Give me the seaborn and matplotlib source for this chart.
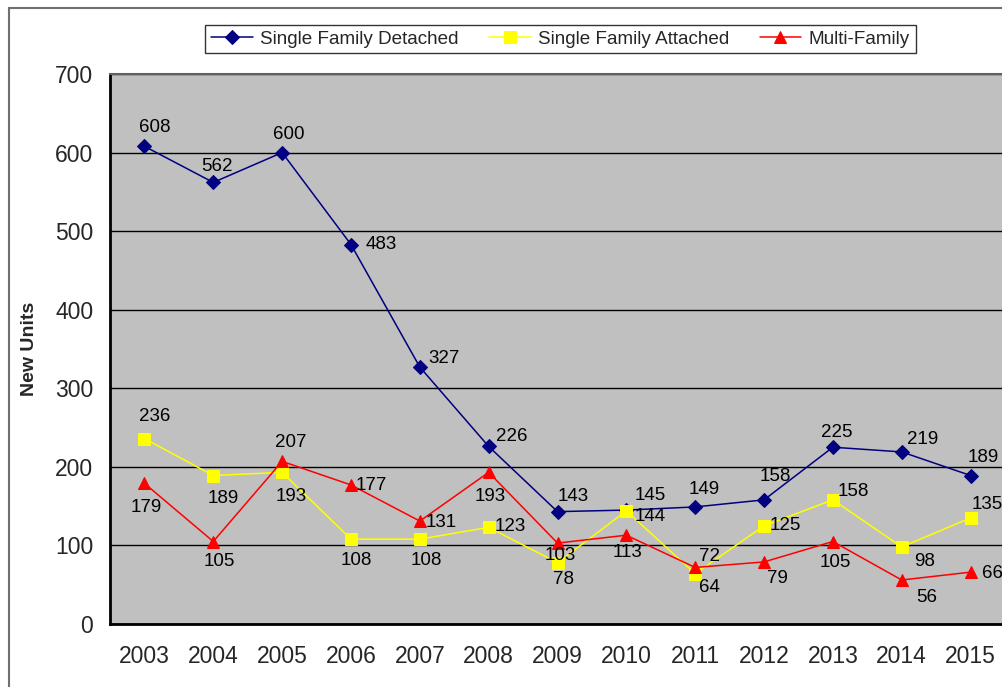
import matplotlib
matplotlib.use("Agg")
import matplotlib.pyplot as plt
import seaborn as sns
import pandas as pd
from matplotlib.patches import Rectangle

# data
years = [2003, 2004, 2005, 2006, 2007, 2008, 2009, 2010, 2011, 2012, 2013, 2014, 2015]
detached = [608, 562, 600, 483, 327, 226, 143, 145, 149, 158, 225, 219, 189]
attached = [236, 189, 193, 108, 108, 123, 78, 144, 64, 125, 158, 98, 135]
multi = [179, 105, 207, 177, 131, 193, 103, 113, 72, 79, 105, 56, 66]
series_names = ["Single Family Detached", "Single Family Attached", "Multi-Family"]

# label offsets in pixels (dx, dy with y going up)
off_det = [(10, 19), (4, 16), (7, 18), (30, 0), (24, 9), (23, 10), (16, 15),
           (24, 15), (9, 17), (11, 23), (4, 15), (21, 12), (13, 18)]
off_att = [(10, 22), (10, -23), (9, -24), (5, -21), (7, -21), (22, 1), (6, -17),
           (24, -6), (14, -14), (21, 0), (20, 8), (23, -14), (17, 13)]
off_mul = [(2, -24), (6, -20), (9, 19), (20, -1), (21, -1), (2, -24), (3, -12),
           (1, -17), (14, 11), (13, -17), (2, -21), (25, -17), (22, -1)]

frames = []
for name, vals in zip(series_names, [detached, attached, multi]):
    frames.append(pd.DataFrame({"pos": range(len(years)), "units": vals, "series": name}))
df = pd.concat(frames, ignore_index=True)

palette = {series_names[0]: "#000080", series_names[1]: "#FFFF00", series_names[2]: "#FF0000"}
markers = {series_names[0]: "D", series_names[1]: "s", series_names[2]: "^"}
msize = {series_names[0]: 7, series_names[1]: 8, series_names[2]: 8}

sns.set_theme(style="white")
plt.rcParams["font.family"] = ["Liberation Sans", "DejaVu Sans"]

fig = plt.figure(figsize=(10.03, 6.87), dpi=100)
ax = fig.add_axes([110 / 1003, 1 - 624 / 687, 895 / 1003, 550 / 687])
ax.set_facecolor("#C0C0C0")

for name in series_names:
    sub = df[df["series"] == name]
    sns.lineplot(data=sub, x="pos", y="units", color=palette[name], marker=markers[name],
                 markersize=msize[name], markeredgecolor=palette[name], linewidth=1.1,
                 ax=ax, label=name)

ax.set_xlim(-0.5, len(years) - 0.5)
ax.set_ylim(0, 700)
ax.set_yticks(range(0, 701, 100))
ax.set_xticks(range(len(years)))
ax.set_xticklabels([str(y) for y in years])
ax.set_xticks([i + 0.5 for i in range(-1, len(years))], minor=True)
ax.tick_params(axis="x", which="major", length=0, pad=15, labelsize=16.5)
ax.tick_params(axis="x", which="minor", length=7, width=1, color="black", direction="out")
ax.tick_params(axis="y", length=7, width=1, color="black", direction="out", labelsize=16.5, pad=5)
ax.yaxis.grid(True, color="black", linewidth=1)
ax.set_axisbelow(True)
ax.set_xlabel("")
ax.set_ylabel("New Units", fontsize=14, fontweight="bold", labelpad=12)

for side in ["left", "bottom"]:
    ax.spines[side].set_color("black")
    ax.spines[side].set_linewidth(2)
ax.spines["top"].set_color("#606060")
ax.spines["top"].set_linewidth(1.5)
ax.spines["right"].set_visible(False)

for vals, offs in zip([detached, attached, multi], [off_det, off_att, off_mul]):
    for i, (v, (dx, dy)) in enumerate(zip(vals, offs)):
        ax.annotate(str(v), (i, v), xytext=(dx * 0.72, dy * 0.72), textcoords="offset points",
                    ha="center", va="center", fontsize=13.5, color="black")

leg = ax.legend(loc="center", bbox_to_anchor=(560.5 / 1003, 1 - 39 / 687),
                bbox_transform=fig.transFigure, ncol=3, fontsize=13.6, frameon=True,
                fancybox=False, edgecolor="black", handlelength=2.2, columnspacing=1.6,
                borderpad=0.3, handletextpad=0.4)
leg.get_frame().set_linewidth(1)

fig.patches.append(Rectangle((9 / 1003, -0.1), 1.2, 1 - 8 / 687 + 0.1, transform=fig.transFigure,
                             fill=False, edgecolor="#707070", linewidth=1.5))

fig.savefig("out.png", dpi=100)
